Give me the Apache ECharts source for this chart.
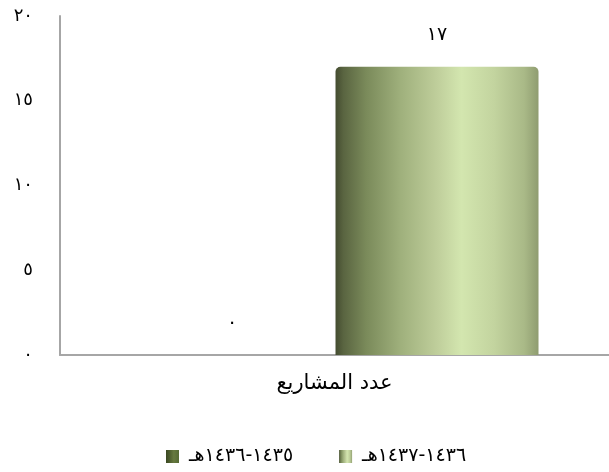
<!DOCTYPE html>
<html>
<head>
<meta charset="utf-8">
<script src="https://cdn.jsdelivr.net/npm/echarts@6/dist/echarts.min.js"></script>
<style>
  html, body { margin: 0; padding: 0; background: #fff; }
  #chart { width: 609px; height: 472px; }
</style>
</head>
<body>
<div id="chart"></div>
<script>
// Project counts per Hijri period
const categories = ['عدد المشاريع'];
const seriesNames = ['١٤٣٥-١٤٣٦هـ', '١٤٣٦-١٤٣٧هـ'];
const periodA = [0];
const periodB = [17];
const yTicks = [0, 5, 10, 15, 20];

const arabicDigits = '٠١٢٣٤٥٦٧٨٩';
function toArabic(n) {
  return String(n).replace(/[0-9]/g, d => arabicDigits[+d]);
}

const FONT = 'DejaVu Sans';

// cylinder-like horizontal shading
function shade(stops) {
  return {
    type: 'linear', x: 0, y: 0, x2: 1, y2: 0,
    colorStops: stops.map(s => ({ offset: s[0], color: s[1] }))
  };
}
const lightShade = shade([
  [0, '#444c30'], [0.04, '#5a6541'], [0.15, '#7a8a5a'], [0.32, '#9fb07c'],
  [0.5, '#bfce9b'], [0.62, '#d3e6af'], [0.78, '#c3d49f'], [0.93, '#a9b987'], [1, '#8f9c70']
]);
const darkShade = shade([
  [0, '#3a4722'], [0.3, '#4f5f2f'], [0.6, '#66793f'], [1, '#556a34']
]);

const chart = echarts.init(document.getElementById('chart'));
chart.setOption({
  animation: false,
  textStyle: { fontFamily: FONT },
  grid: { left: 60, right: 0, top: 16, bottom: 117, containLabel: false },
  legend: {
    bottom: 6,
    left: 166,
    padding: 0,
    icon: 'rect',
    itemWidth: 13,
    itemHeight: 13,
    itemGap: 46,
    formatter: name => '{t|' + name + '}',
    textStyle: {
      fontFamily: FONT, fontSize: 19, color: '#000',
      rich: { t: { fontFamily: FONT, fontSize: 19, color: '#000', padding: [0, 0, 0, 5] } }
    },
    data: seriesNames
  },
  xAxis: {
    type: 'category',
    data: categories,
    axisLine: { lineStyle: { color: '#a6a6a6', width: 2 } },
    axisTick: { show: false },
    axisLabel: { fontFamily: FONT, fontSize: 21, color: '#000', margin: 18 }
  },
  yAxis: {
    type: 'value',
    min: yTicks[0],
    max: yTicks[yTicks.length - 1],
    interval: yTicks[1] - yTicks[0],
    axisLine: { show: true, lineStyle: { color: '#a6a6a6', width: 2 } },
    axisTick: { show: false },
    splitLine: { show: false },
    axisLabel: {
      fontFamily: FONT, fontSize: 18, color: '#000', margin: 27,
      formatter: v => toArabic(v)
    }
  },
  series: [
    {
      name: seriesNames[0],
      type: 'bar',
      data: periodA,
      barWidth: 203,
      barGap: '1%',
      itemStyle: { color: darkShade, borderRadius: [5, 5, 0, 0] },
      label: {
        show: true, position: 'top', distance: 22,
        fontFamily: FONT, fontSize: 19, color: '#000',
        formatter: p => toArabic(p.value)
      }
    },
    {
      name: seriesNames[1],
      type: 'bar',
      data: periodB,
      barWidth: 203,
      barGap: '1%',
      itemStyle: { color: lightShade, borderRadius: [5, 5, 0, 0] },
      label: {
        show: true, position: 'top', distance: 22,
        fontFamily: FONT, fontSize: 19, color: '#000',
        formatter: p => toArabic(p.value)
      }
    }
  ]
});
</script>
</body>
</html>
